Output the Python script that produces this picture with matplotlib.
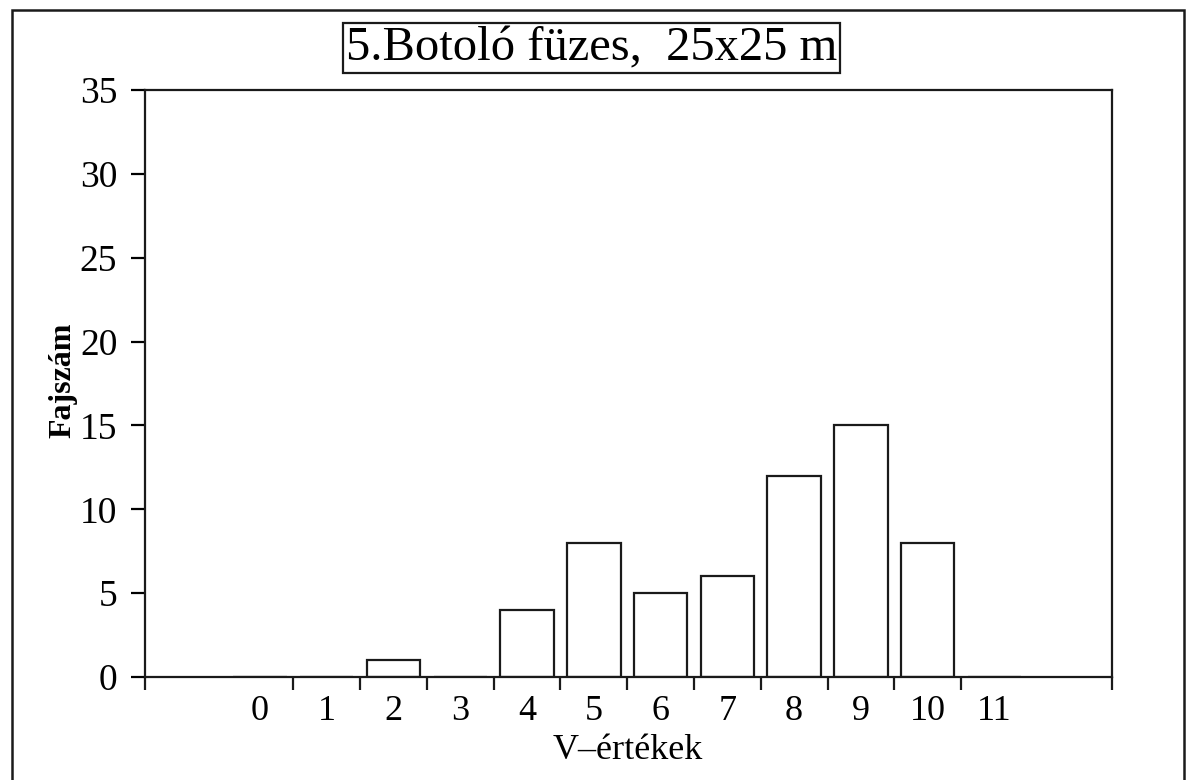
import matplotlib
import matplotlib.pyplot as plt
from matplotlib.patches import Rectangle
import numpy as np

matplotlib.use("Agg")

# data
categories = [0, 1, 2, 3, 4, 5, 6, 7, 8, 9, 10, 11]
species    = [0, 0, 1, 0, 4, 8, 5, 6, 12, 15, 8, 0]
y_ticks    = [0, 5, 10, 15, 20, 25, 30, 35]

TITLE  = "5.Botoló füzes,  25x25 m"
XLABEL = "V\u2013értékek"
YLABEL = "Fajszám"

SERIF = ["Liberation Serif", "DejaVu Serif"]
LW    = 1.6

plt.rcParams.update({
    "font.family": SERIF,
    "axes.linewidth": LW,
    "xtick.major.width": LW,
    "ytick.major.width": LW,
})

fig = plt.figure(figsize=(11.87, 7.80), dpi=100)
ax = fig.add_axes([0.1222, 0.1321, 0.8146, 0.7525])

x = np.array(categories)
ax.bar(x, species, width=0.8, color="white", edgecolor="#1a1a1a", linewidth=LW)

xmin, xmax = -1.72, 12.76
ax.set_xlim(xmin, xmax)
ax.set_ylim(0, 35)

# major ticks sit between the bars, labels sit under the bar centres
bounds = [xmin] + list(x[:-1] + 0.5) + [xmax]
ax.set_xticks(bounds)
ax.set_xticklabels([])
ax.set_xticks(x, minor=True)
ax.set_xticklabels([str(c) for c in categories], minor=True)
ax.tick_params(axis="x", which="major", direction="out", length=9, color="#1a1a1a")
ax.tick_params(axis="x", which="minor", length=0, pad=13, labelsize=26)

ax.set_yticks(y_ticks)
ax.tick_params(axis="y", direction="out", length=10, pad=10, labelsize=27)

for s in ax.spines.values():
    s.set_color("#1a1a1a")

# titles and labels placed like the original scan
fig.text(0.498, 0.938, TITLE, ha="center", va="center", fontsize=35,
         bbox=dict(boxstyle="square,pad=0.06", facecolor="white",
                   edgecolor="#1a1a1a", linewidth=LW))
fig.text(0.053, 0.513, YLABEL, rotation=90, ha="center", va="center",
         fontsize=23, fontweight="bold")
fig.text(0.529, 0.038, XLABEL, ha="center", va="center", fontsize=26)

# outer frame of the scanned page
fig.patches.append(Rectangle((0.0101, -0.02), 0.9874, 1.007,
                             transform=fig.transFigure, fill=False,
                             edgecolor="#1a1a1a", linewidth=1.8))

fig.savefig("out.png", dpi=100)
